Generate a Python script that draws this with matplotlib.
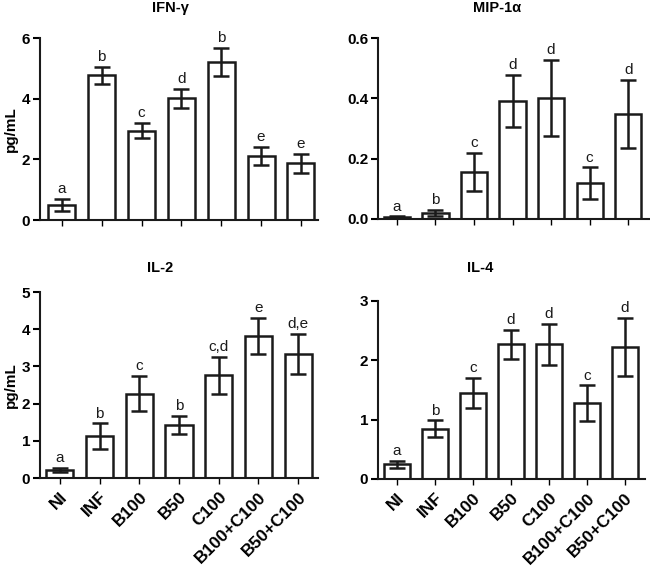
import matplotlib
matplotlib.use("Agg")
import matplotlib.pyplot as plt
import numpy as np

plt.rcParams['font.family'] = ['Liberation Sans', 'DejaVu Sans']

groups = ["NI", "INF", "B100", "B50", "C100", "B100+C100", "B50+C100"]

ifn_mean = [0.50, 4.77, 2.95, 4.01, 5.21, 2.11, 1.87]
ifn_err = [0.20, 0.27, 0.25, 0.31, 0.47, 0.29, 0.31]
ifn_letters = ["a", "b", "c", "d", "b", "e", "e"]

mip_mean = [0.006, 0.021, 0.156, 0.391, 0.401, 0.118, 0.349]
mip_err = [0.003, 0.010, 0.063, 0.086, 0.127, 0.053, 0.113]
mip_letters = ["a", "b", "c", "d", "d", "c", "d"]

il2_mean = [0.22, 1.12, 2.27, 1.42, 2.76, 3.82, 3.34]
il2_err = [0.05, 0.35, 0.47, 0.25, 0.49, 0.49, 0.54]
il2_letters = ["a", "b", "c", "b", "c,d", "e", "d,e"]

il4_mean = [0.25, 0.85, 1.45, 2.27, 2.27, 1.28, 2.23]
il4_err = [0.06, 0.14, 0.25, 0.24, 0.35, 0.30, 0.49]
il4_letters = ["a", "b", "c", "d", "d", "c", "d"]

W, H = 650, 567
fig = plt.figure(figsize=(W / 100, H / 100), dpi=100)

def ax_at(l, r, b, t):
    return fig.add_axes([l / W, 1 - b / H, (r - l) / W, (b - t) / H])

panels = [
    dict(box=(40, 318, 220, 38), mean=ifn_mean, err=ifn_err, let=ifn_letters,
         ylim=(0, 6), yticks=[0, 2, 4, 6], fmt="{:g}", xlim=(-0.55, 6.43),
         title="IFN-γ", tpos=(170, 8), ylabel=True, xlabels=False),
    dict(box=(378, 649, 219, 38), mean=mip_mean, err=mip_err, let=mip_letters,
         ylim=(0, 0.6), yticks=[0, 0.2, 0.4, 0.6], fmt="{:.1f}", xlim=(-0.49, 6.54),
         title="MIP-1α", tpos=(497, 8), ylabel=False, xlabels=False),
    dict(box=(40, 318, 478, 292), mean=il2_mean, err=il2_err, let=il2_letters,
         ylim=(0, 5), yticks=[0, 1, 2, 3, 4, 5], fmt="{:g}", xlim=(-0.5, 6.5),
         title="IL-2", tpos=(160, 268), ylabel=True, xlabels=True),
    dict(box=(378, 645, 479, 301), mean=il4_mean, err=il4_err, let=il4_letters,
         ylim=(0, 3), yticks=[0, 1, 2, 3], fmt="{:g}", xlim=(-0.5, 6.53),
         title="IL-4", tpos=(480, 268), ylabel=False, xlabels=True),
]

for p in panels:
    ax = ax_at(*p["box"])
    x = np.arange(len(groups))
    ax.bar(x, p["mean"], width=0.68, facecolor="white", edgecolor="#1a1a1a",
           linewidth=1.8, zorder=2)
    ax.errorbar(x, p["mean"], yerr=p["err"], fmt="none", ecolor="#1a1a1a",
                elinewidth=1.8, capsize=5.5, capthick=1.8, zorder=3)
    ax.set_xlim(*p["xlim"])
    ax.set_ylim(*p["ylim"])
    ax.set_yticks(p["yticks"])
    ax.set_yticklabels([p["fmt"].format(v) for v in p["yticks"]],
                       fontsize=11, fontweight="bold")
    ax.set_xticks(x)
    if p["xlabels"]:
        ax.set_xticklabels(groups, rotation=45, ha="right", rotation_mode="anchor",
                           fontsize=12.5, fontweight="bold")
    else:
        ax.set_xticklabels([])
    for s in ["top", "right"]:
        ax.spines[s].set_visible(False)
    for s in ["left", "bottom"]:
        ax.spines[s].set_linewidth(1.5)
        ax.spines[s].set_color("#1a1a1a")
    ax.tick_params(axis="y", length=5, width=1.5, pad=2)
    ax.tick_params(axis="x", length=4, width=1.0, pad=4)
    yr = p["ylim"][1] - p["ylim"][0]
    for xi, m, e, lt in zip(x, p["mean"], p["err"], p["let"]):
        ax.text(xi, m + e + 0.015 * yr, lt, ha="center", va="bottom",
                fontsize=11, color="#1a1a1a")
    fig.text(p["tpos"][0] / W, 1 - p["tpos"][1] / H, p["title"], ha="center",
             va="center", fontsize=10.5, fontweight="bold")
    if p["ylabel"]:
        ax.set_ylabel("pg/mL", fontsize=11, fontweight="bold", labelpad=3)

fig.savefig("out.png", dpi=100)
